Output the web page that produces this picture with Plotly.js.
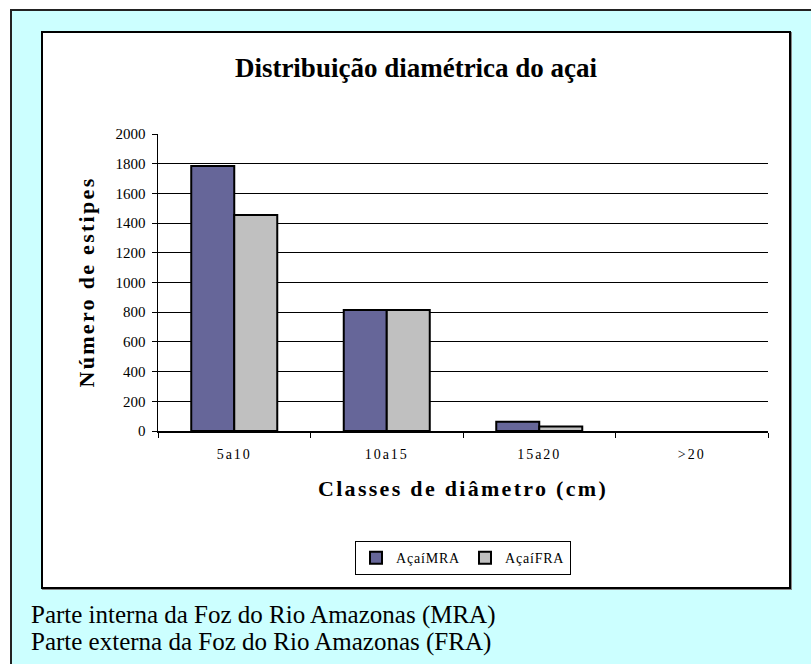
<!DOCTYPE html>
<html>
<head>
<meta charset="utf-8">
<script src="https://cdn.plot.ly/plotly-3.0.1.min.js"></script>
<style>
  html, body { margin: 0; padding: 0; background: #ffffff; width: 811px; height: 664px; overflow: hidden; }
  #outer { position: absolute; left: 10px; top: 9px; width: 820px; height: 680px; background: #CCFFFF;
           border-left: 2px solid #222; border-top: 2px solid #222; box-sizing: border-box; }
  #frame { position: absolute; left: 41px; top: 31px; width: 750px; height: 558px; box-sizing: border-box;
           border: 2px solid #000; background: #fff; box-shadow: 1px 1px 0 #888; }
  #chart { position: absolute; left: 43px; top: 33px; width: 746px; height: 554px; }
  .note { position: absolute; left: 31px; font-family: 'Liberation Serif', 'DejaVu Serif', 'Times New Roman', serif;
          font-size: 25px; line-height: 25px; color: #000; white-space: nowrap; }
  .annotation-text { letter-spacing: 2.3px; }
  .xtick text { letter-spacing: 2px; }
  .legendtext { letter-spacing: 0.8px; }
</style>
</head>
<body>
<div id="outer"></div>
<div id="frame"></div>
<div id="chart"></div>
<div class="note" style="top: 602px;">Parte interna da Foz do Rio Amazonas (MRA)</div>
<div class="note" style="top: 629px;">Parte externa da Foz do Rio Amazonas (FRA)</div>
<script>
const categories = ["5a10", "10a15", "15a20", ">20"];
const seriesNames = ["AçaíMRA", "AçaíFRA"];
const valuesMRA = [1785, 815, 62, null];
const valuesFRA = [1455, 815, 30, null];
const yTicks = [0, 200, 400, 600, 800, 1000, 1200, 1400, 1600, 1800, 2000];

const serif = "'Liberation Serif', 'DejaVu Serif', 'Times New Roman', serif";

const traces = [
  { type: "bar", name: seriesNames[0], x: categories, y: valuesMRA,
    marker: { color: "#666699", line: { color: "#000", width: 2 } } },
  { type: "bar", name: seriesNames[1], x: categories, y: valuesFRA,
    marker: { color: "#C0C0C0", line: { color: "#000", width: 2 } } }
];

const layout = {
  width: 746, height: 554,
  margin: { l: 115, r: 21, t: 101, b: 154 },
  paper_bgcolor: "#ffffff",
  plot_bgcolor: "#ffffff",
  font: { family: serif, color: "#000", size: 14 },
  barmode: "group",
  bargap: 0.436,
  bargroupgap: 0,
  showlegend: true,
  title: { text: "<b>Distribuição diamétrica do açai</b>", x: 0.5, xref: "container",
           y: 0.937, yref: "container", yanchor: "middle",
           font: { family: serif, size: 27, color: "#000" } },
  xaxis: {
    type: "category", tickson: "boundaries", ticks: "outside", ticklen: 5, tickwidth: 1, tickcolor: "#000",
    showline: true, linecolor: "#000", linewidth: 1.5, showgrid: false, zeroline: false,
    tickfont: { family: serif, size: 14 }, ticklabelstandoff: 10, fixedrange: true
  },
  yaxis: {
    range: [0, 2000], tickvals: yTicks, ticks: "outside", ticklen: 5, tickwidth: 1, tickcolor: "#000",
    showline: true, linecolor: "#000", linewidth: 1.5, showgrid: true, gridcolor: "#000", gridwidth: 1,
    zeroline: false, tickfont: { family: serif, size: 15 }, ticklabelstandoff: 3, fixedrange: true
  },
  legend: {
    orientation: "h", x: 0.5, xanchor: "center", y: -0.371, yanchor: "top",
    bordercolor: "#000", borderwidth: 1, bgcolor: "#fff",
    font: { family: serif, size: 14 }, itemwidth: 30, tracegroupgap: 0
  },
  annotations: [
    { text: "<b>Número de estipes</b>", xref: "paper", yref: "paper", x: -0.118, y: 0.5,
      xanchor: "center", yanchor: "middle", textangle: -90, showarrow: false,
      font: { family: serif, size: 22, color: "#000" } },
    { text: "<b>Classes de diâmetro (cm)</b>", xref: "paper", yref: "paper", x: 0.5, y: -0.194,
      xanchor: "center", yanchor: "middle", showarrow: false,
      font: { family: serif, size: 22, color: "#000" } }
  ]
};

Plotly.newPlot("chart", traces, layout, { displayModeBar: false, staticPlot: true });
</script>
</body>
</html>
